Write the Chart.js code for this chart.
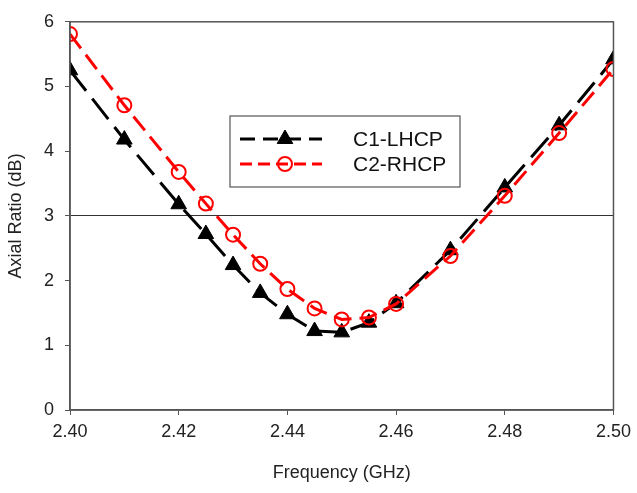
<!DOCTYPE html>
<html>
<head>
<meta charset="utf-8">
<script src="https://cdn.jsdelivr.net/npm/chart.js@4/dist/chart.umd.min.js"></script>
<style>
  html, body { margin: 0; padding: 0; background: #fff; }
  #wrap { width: 637px; height: 493px; }
</style>
</head>
<body>
<div id="wrap"><canvas id="chart" width="637" height="493"></canvas></div>
<script>
// frequency points (GHz)
const freq = [2.40, 2.41, 2.42, 2.425, 2.43, 2.435, 2.44, 2.445, 2.45, 2.455, 2.46, 2.47, 2.48, 2.49, 2.50];
// axial ratio (dB)
const c1Lhcp = [5.25, 4.18, 3.18, 2.72, 2.24, 1.81, 1.48, 1.22, 1.20, 1.35, 1.65, 2.47, 3.44, 4.40, 5.42];
const c2Rhcp = [5.81, 4.71, 3.68, 3.19, 2.71, 2.26, 1.87, 1.57, 1.40, 1.43, 1.64, 2.38, 3.31, 4.28, 5.27];
const xTicks = [2.40, 2.42, 2.44, 2.46, 2.48, 2.50];
const yTicks = [0, 1, 2, 3, 4, 5, 6];
const refLevel = 3;

const FONT = '"Liberation Sans", Arial, sans-serif';
const toPts = ys => ys.map((y, i) => ({ x: freq[i], y: y }));

// box around the plot + legend inside the chart area
const framePlugin = {
    id: 'frame',
    afterDraw(chart) {
        const { ctx, chartArea: a } = chart;
        ctx.save();
        ctx.strokeStyle = '#555';
        ctx.lineWidth = 1.5;
        ctx.strokeRect(a.left, a.top, a.right - a.left, a.bottom - a.top);

        // legend
        const bx = 230, by = 116, bw = 230, bh = 71;
        ctx.fillStyle = '#fff';
        ctx.fillRect(bx, by, bw, bh);
        ctx.strokeStyle = '#555';
        ctx.lineWidth = 1.2;
        ctx.strokeRect(bx, by, bw, bh);
        const rows = [139, 164];
        chart.data.datasets.slice().sort((p, q) => p.legendIdx - q.legendIdx).forEach((ds, i) => {
            const y = rows[i];
            ctx.strokeStyle = ds.borderColor;
            ctx.lineWidth = ds.borderWidth;
            ctx.setLineDash(ds.legendDash);
            ctx.beginPath();
            ctx.moveTo(240, y);
            ctx.lineTo(322, y);
            ctx.stroke();
            ctx.setLineDash([]);
            ctx.fillStyle = ds.pointBackgroundColor;
            ctx.strokeStyle = ds.pointBorderColor;
            ctx.lineWidth = ds.pointBorderWidth;
            Chart.helpers.drawPoint(ctx, {
                pointStyle: ds.pointStyle,
                radius: ds.pointRadius,
                borderWidth: ds.pointBorderWidth
            }, 285, y);
            ctx.fillStyle = '#111';
            ctx.font = '21px ' + FONT;
            ctx.textBaseline = 'middle';
            ctx.textAlign = 'left';
            ctx.fillText(ds.label, 353, y + 1);
        });
        ctx.restore();
    }
};

const ctx = document.getElementById('chart').getContext('2d');
new Chart(ctx, {
    type: 'line',
    data: {
        datasets: [
            {
                label: 'C1-LHCP',
                legendIdx: 0,
                data: toPts(c1Lhcp),
                borderColor: '#000',
                borderWidth: 3,
                borderDash: [26, 10],
                legendDash: [15, 8],
                pointStyle: 'triangle',
                pointRadius: 9,
                pointBackgroundColor: '#000',
                pointBorderColor: '#000',
                pointBorderWidth: 1,
                fill: false,
                tension: 0,
                order: 1
            },
            {
                label: 'C2-RHCP',
                legendIdx: 1,
                data: toPts(c2Rhcp),
                borderColor: '#ff0000',
                borderWidth: 3,
                borderDash: [18, 8],
                legendDash: [12, 6],
                pointStyle: 'circle',
                pointRadius: 7,
                pointBackgroundColor: 'rgba(255,255,255,0)',
                pointBorderColor: '#ff0000',
                pointBorderWidth: 2,
                fill: false,
                tension: 0,
                order: 0
            }
        ]
    },
    options: {
        responsive: false,
        animation: false,
        layout: { padding: { left: 0, right: 23, top: 17, bottom: 0 } },
        plugins: {
            legend: { display: false },
            tooltip: { enabled: false }
        },
        scales: {
            x: {
                type: 'linear',
                min: 2.40,
                max: 2.50,
                afterBuildTicks: s => { s.ticks = xTicks.map(v => ({ value: v })); },
                afterFit: s => { s.height = 83; },
                grid: {
                    drawOnChartArea: false,
                    tickLength: 5,
                    tickColor: '#555'
                },
                border: { color: '#555', width: 1.5 },
                ticks: {
                    color: '#222',
                    padding: 6,
                    font: { family: FONT, size: 18 },
                    callback: v => Number(v).toFixed(2),
                    maxRotation: 0
                },
                title: {
                    display: true,
                    text: 'Frequency (GHz)',
                    color: '#222',
                    font: { family: FONT, size: 18 },
                    padding: { top: 0, bottom: 9 }
                }
            },
            y: {
                min: 0,
                max: 6,
                afterBuildTicks: s => { s.ticks = yTicks.map(v => ({ value: v })); },
                afterFit: s => { s.width = 70; },
                grid: {
                    drawOnChartArea: true,
                    color: c => (c.tick && c.tick.value === refLevel) ? '#333' : 'rgba(0,0,0,0)',
                    lineWidth: 1,
                    tickLength: 5,
                    tickColor: '#555'
                },
                border: { color: '#555', width: 1.5 },
                ticks: {
                    color: '#222',
                    padding: 11,
                    font: { family: FONT, size: 18 }
                },
                title: {
                    display: true,
                    text: 'Axial Ratio (dB)',
                    color: '#222',
                    font: { family: FONT, size: 18 },
                    padding: { top: 5, bottom: 0 }
                }
            }
        }
    },
    plugins: [framePlugin]
});
</script>
</body>
</html>
